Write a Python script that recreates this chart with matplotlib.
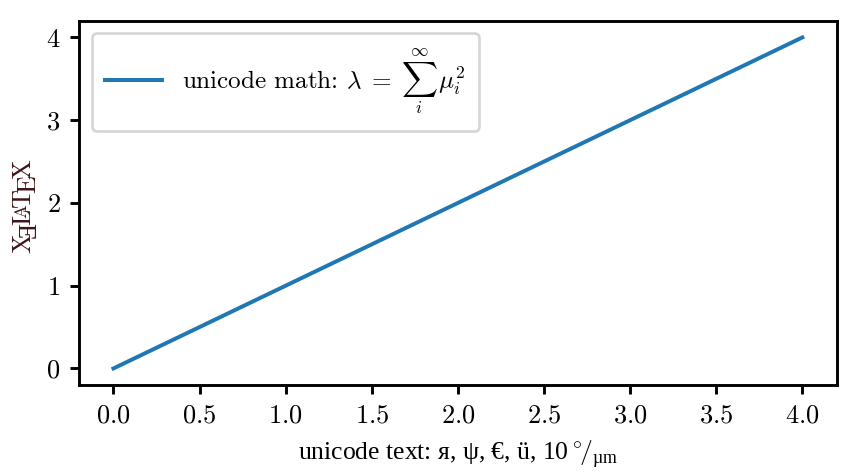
import matplotlib
matplotlib.use("Agg")
import matplotlib.pyplot as plt
from matplotlib.transforms import IdentityTransform

# data
x_vals = [0, 1, 2, 3, 4]
y_vals = [0, 1, 2, 3, 4]
legend_label = r"unicode math: $\lambda\;=\;\sum_i^\infty\,\mu_i^2$"
x_label = r"unicode text: я, ψ, €, ü, 10$\,{}^{\circ}\!/_{\mathregular{µm}}$"

plt.rcParams['font.family'] = ['cmr10', 'Liberation Serif']
plt.rcParams['mathtext.fontset'] = 'cm'
plt.rcParams['axes.formatter.use_mathtext'] = True
plt.rcParams['font.size'] = 10
plt.rcParams['axes.linewidth'] = 1.1
plt.rcParams['xtick.major.width'] = 1.1
plt.rcParams['ytick.major.width'] = 1.1


def draw_xelatex(fig, cx, cy, size, color):
    """XeLaTeX logo, rotated 90 deg, baseline at x=cx (pixels), centred on cy"""
    r = fig.canvas.get_renderer()
    em = size * fig.dpi / 72.0
    ex = 0.43 * em
    # (glyph, kern before [em], vertical shift [ex], scale)
    pieces = [("X", 0.0, 0.0, 1.0),
              ("Ǝ", -0.1667, -0.5, 1.0),
              ("L", -0.125, 0.0, 1.0),
              ("A", -0.36, 0.3, 0.7),
              ("T", -0.15, 0.0, 1.0),
              ("E", -0.1667, -0.5, 1.0),
              ("X", -0.125, 0.0, 1.0)]
    placed = []
    pos = 0.0
    for s, kern, shift, scale in pieces:
        pos += kern * em
        fam = ['Liberation Serif'] if s == "Ǝ" else ['cmr10']
        t = fig.text(0, 0, s, rotation=90, rotation_mode='anchor',
                     ha='left', va='baseline', fontsize=size * scale,
                     family=fam, color=color, transform=IdentityTransform())
        w = t.get_window_extent(r).height
        placed.append((t, pos, shift * ex))
        pos += w
    start = cy - pos / 2
    for t, p, sh in placed:
        t.set_position((cx - sh, start + p))


dpi = 190
fig = plt.figure(figsize=(856 / dpi, 475 / dpi), dpi=dpi)
ax = fig.add_axes([0.0923, 0.1895, 0.8852, 0.7665])

ax.plot(x_vals, y_vals, label=legend_label)
ax.set_xlabel(x_label, family=['Liberation Serif'], fontsize=9.7)
ax.legend(loc='upper left', fontsize=9.5, handlelength=2.25,
          borderpad=0.55)

draw_xelatex(fig, 30, 269, 10, '#40151a')

fig.savefig("out.png", dpi=dpi, facecolor='white')
